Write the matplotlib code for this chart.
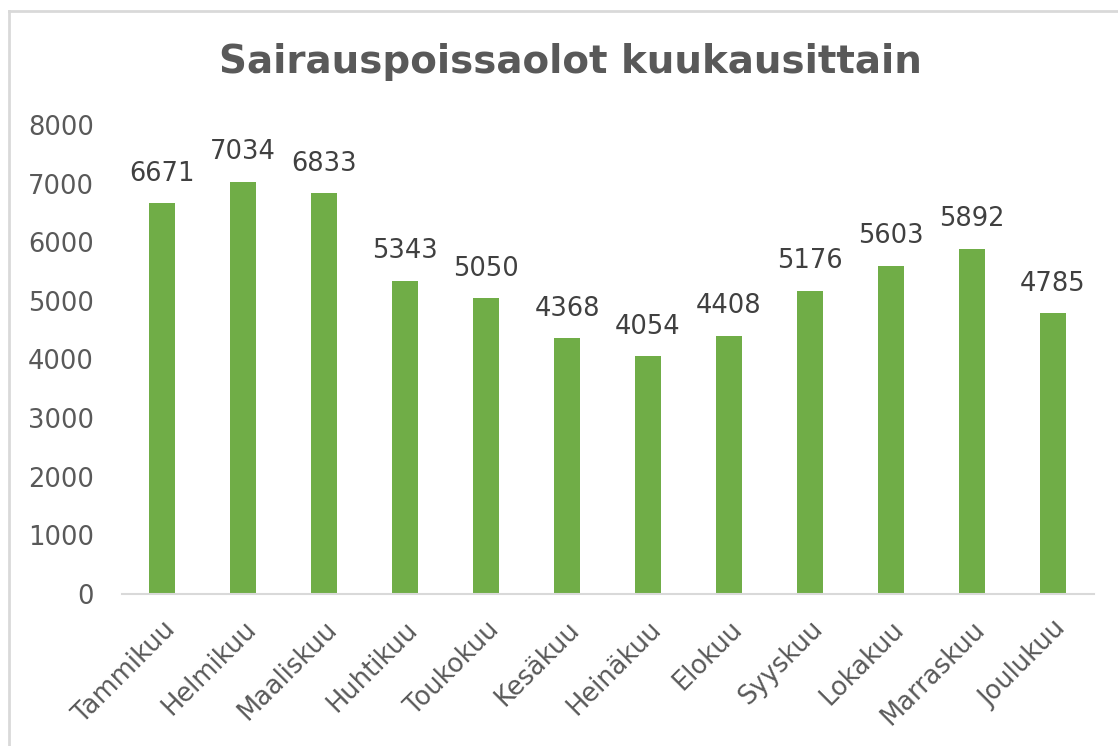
import matplotlib
matplotlib.use("Agg")
import matplotlib.pyplot as plt
from matplotlib.lines import Line2D

months = ["Tammikuu", "Helmikuu", "Maaliskuu", "Huhtikuu", "Toukokuu", "Kesäkuu",
          "Heinäkuu", "Elokuu", "Syyskuu", "Lokakuu", "Marraskuu", "Joulukuu"]
values = [6671, 7034, 6833, 5343, 5050, 4368, 4054, 4408, 5176, 5603, 5892, 4785]
yticks = [0, 1000, 2000, 3000, 4000, 5000, 6000, 7000, 8000]
title = "Sairauspoissaolot kuukausittain"

text_color = "#595959"
bar_color = "#70AD47"
line_color = "#D9D9D9"

plt.rcParams['font.family'] = ['DejaVu Sans']

fig = plt.figure(figsize=(11.18, 7.46), dpi=100)
ax = fig.add_axes([0.1087, 0.2038, 0.8694, 0.6286])

x = list(range(len(months)))
ax.bar(x, values, width=0.33, color=bar_color, zorder=2)
for xi, v in zip(x, values):
    ax.text(xi, v + 280, str(v), ha="center", va="bottom", fontsize=18.5, color="#404040")

ax.set_xlim(-0.5, len(months) - 0.5)
ax.set_ylim(0, 8000)
ax.set_yticks(yticks)
ax.set_yticklabels([str(t) for t in yticks], fontsize=18.5, color=text_color)
ax.set_xticks(x)
ax.set_xticklabels(months, rotation=45, ha="right", rotation_mode="anchor",
                   fontsize=18.5, color=text_color)
ax.tick_params(axis="y", length=0, pad=20)
ax.tick_params(axis="x", length=0, pad=16)
for s in ["top", "right", "left"]:
    ax.spines[s].set_visible(False)
ax.spines["bottom"].set_color(line_color)
ax.spines["bottom"].set_linewidth(1.5)

fig.text(0.51, 0.917, title, ha="center", va="center", fontsize=28,
         fontweight="bold", color=text_color)

top_y = 1 - 10.5 / 746
left_x = 8.5 / 1118
fig.add_artist(Line2D([left_x, 1], [top_y, top_y], transform=fig.transFigure,
                      color=line_color, linewidth=2))
fig.add_artist(Line2D([left_x, left_x], [0, top_y], transform=fig.transFigure,
                      color=line_color, linewidth=2))

fig.savefig("out.png", dpi=100)
